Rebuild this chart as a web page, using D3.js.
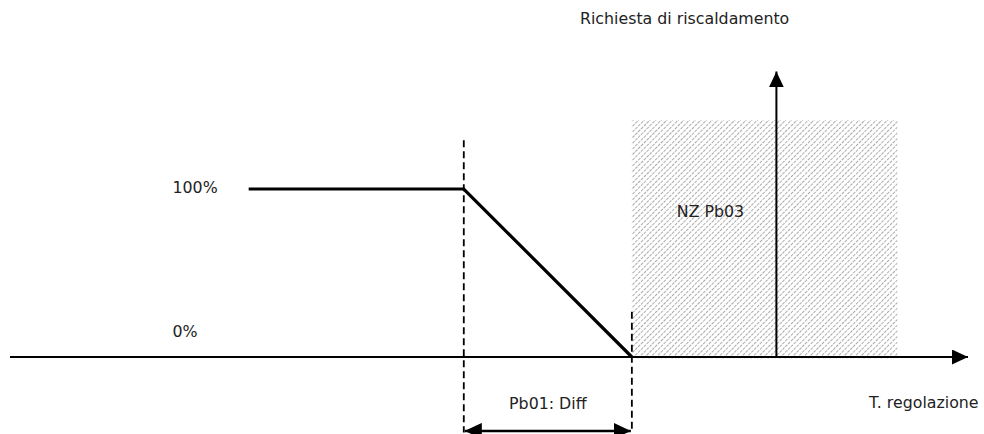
<!DOCTYPE html>
<html>
<head>
<meta charset="utf-8">
<script src="https://cdn.jsdelivr.net/npm/d3@7/dist/d3.min.js"></script>
<style>
  html, body { margin: 0; padding: 0; background: #fff; }
  svg { display: block; }
  text { font-family: "DejaVu Sans", Verdana, sans-serif; font-size: 15.8px; fill: #222; }
</style>
</head>
<body>
<svg id="chart" width="984" height="434"></svg>
<script>
// Heating demand vs. regulation temperature (proportional band + neutral zone)
const profileT      = [-2.28, -1, 0];      // regulation temperature (relative to setpoint)
const profileDemand = [100, 100, 0];       // heating demand, %
const levelValues   = [100, 0];
const levelLabels   = ["100%", "0%"];
const diffBand      = [-1, 0];             // Pb01: Diff
const neutralZone   = [0, 1.58];           // NZ Pb03
const demandAxisT   = 0.86;
const tempRange     = [-3.7, 2.0];
const demandAxisTop = 170;
const zoneTop       = 141;
const guideTops     = [129, 27];
const guideBottom   = -45;
const bandArrowLevel = -44;

const titleY   = "Richiesta di riscaldamento";
const titleX   = "T. regolazione";
const bandText = "Pb01: Diff";
const zoneText = "NZ Pb03";

const svg = d3.select("#chart");
const x = d3.scaleLinear().domain(tempRange).range([10, 968]);
const y = d3.scaleLinear().domain([0, 100]).range([357, 189]);

const defs = svg.append("defs");
// fine grey diagonal hatch for the neutral zone
const pat = defs.append("pattern")
  .attr("id", "hatch").attr("patternUnits", "userSpaceOnUse")
  .attr("width", 4).attr("height", 4)
  .attr("patternTransform", "rotate(45)");
pat.append("line").attr("x1", 0.5).attr("y1", 0).attr("x2", 0.5).attr("y2", 4)
  .attr("stroke", "#ababab").attr("stroke-width", 1).attr("stroke-dasharray", "2,1");

function arrowMarker(id, len, half, orient) {
  defs.append("marker").attr("id", id)
    .attr("viewBox", `0 ${-half} ${len} ${2 * half}`)
    .attr("refX", len).attr("refY", 0)
    .attr("markerUnits", "userSpaceOnUse")
    .attr("markerWidth", len).attr("markerHeight", 2 * half)
    .attr("orient", orient)
    .append("path").attr("d", `M0,${-half}L${len},0L0,${half}Z`).attr("fill", "#000");
}
arrowMarker("axisHead", 16, 7.5, "auto");
arrowMarker("bandHead", 17, 8, "auto-start-reverse");

// neutral zone
svg.append("rect")
  .attr("x", x(neutralZone[0])).attr("y", y(zoneTop))
  .attr("width", x(neutralZone[1]) - x(neutralZone[0]))
  .attr("height", y(0) - y(zoneTop) + 2)
  .attr("fill", "url(#hatch)");

// horizontal temperature axis
svg.append("line")
  .attr("x1", x(tempRange[0])).attr("x2", x(tempRange[1]))
  .attr("y1", y(0)).attr("y2", y(0))
  .attr("stroke", "#000").attr("stroke-width", 2)
  .attr("marker-end", "url(#axisHead)");

// vertical demand axis
svg.append("line")
  .attr("x1", x(demandAxisT)).attr("x2", x(demandAxisT))
  .attr("y1", y(0)).attr("y2", y(demandAxisTop))
  .attr("stroke", "#000").attr("stroke-width", 2)
  .attr("marker-end", "url(#axisHead)");

// dashed guides delimiting the differential band
svg.selectAll(".guide").data(diffBand).join("line")
  .attr("class", "guide")
  .attr("x1", d => x(d)).attr("x2", d => x(d))
  .attr("y1", (d, i) => y(guideTops[i])).attr("y2", y(guideBottom))
  .attr("stroke", "#000").attr("stroke-width", 1.8)
  .attr("stroke-dasharray", "7,4");

// band width arrow
svg.append("line")
  .attr("x1", x(diffBand[0]) + 1).attr("x2", x(diffBand[1]) - 1)
  .attr("y1", y(bandArrowLevel)).attr("y2", y(bandArrowLevel))
  .attr("stroke", "#000").attr("stroke-width", 2.5)
  .attr("marker-start", "url(#bandHead)")
  .attr("marker-end", "url(#bandHead)");

// demand profile
const pts = profileT.map((t, i) => [t, profileDemand[i]]);
svg.append("path")
  .attr("d", d3.line().x(d => x(d[0])).y(d => y(d[1]))(pts))
  .attr("fill", "none").attr("stroke", "#000").attr("stroke-width", 3.2)
  .attr("stroke-linejoin", "miter");

// texts
svg.selectAll(".lvl").data(levelValues).join("text")
  .attr("class", "lvl")
  .attr("x", 172.5)
  .attr("y", (d, i) => i === 0 ? y(d) + 4 : y(d) - 20)
  .text((d, i) => levelLabels[i]);

svg.append("text").attr("x", 580).attr("y", 24).text(titleY);
svg.append("text").attr("x", 869).attr("y", 408).text(titleX);
svg.append("text")
  .attr("x", (x(diffBand[0]) + x(diffBand[1])) / 2).attr("y", 409)
  .attr("text-anchor", "middle").text(bandText);
svg.append("text").attr("x", x(neutralZone[0]) + 45).attr("y", 217).text(zoneText);
</script>
</body>
</html>
